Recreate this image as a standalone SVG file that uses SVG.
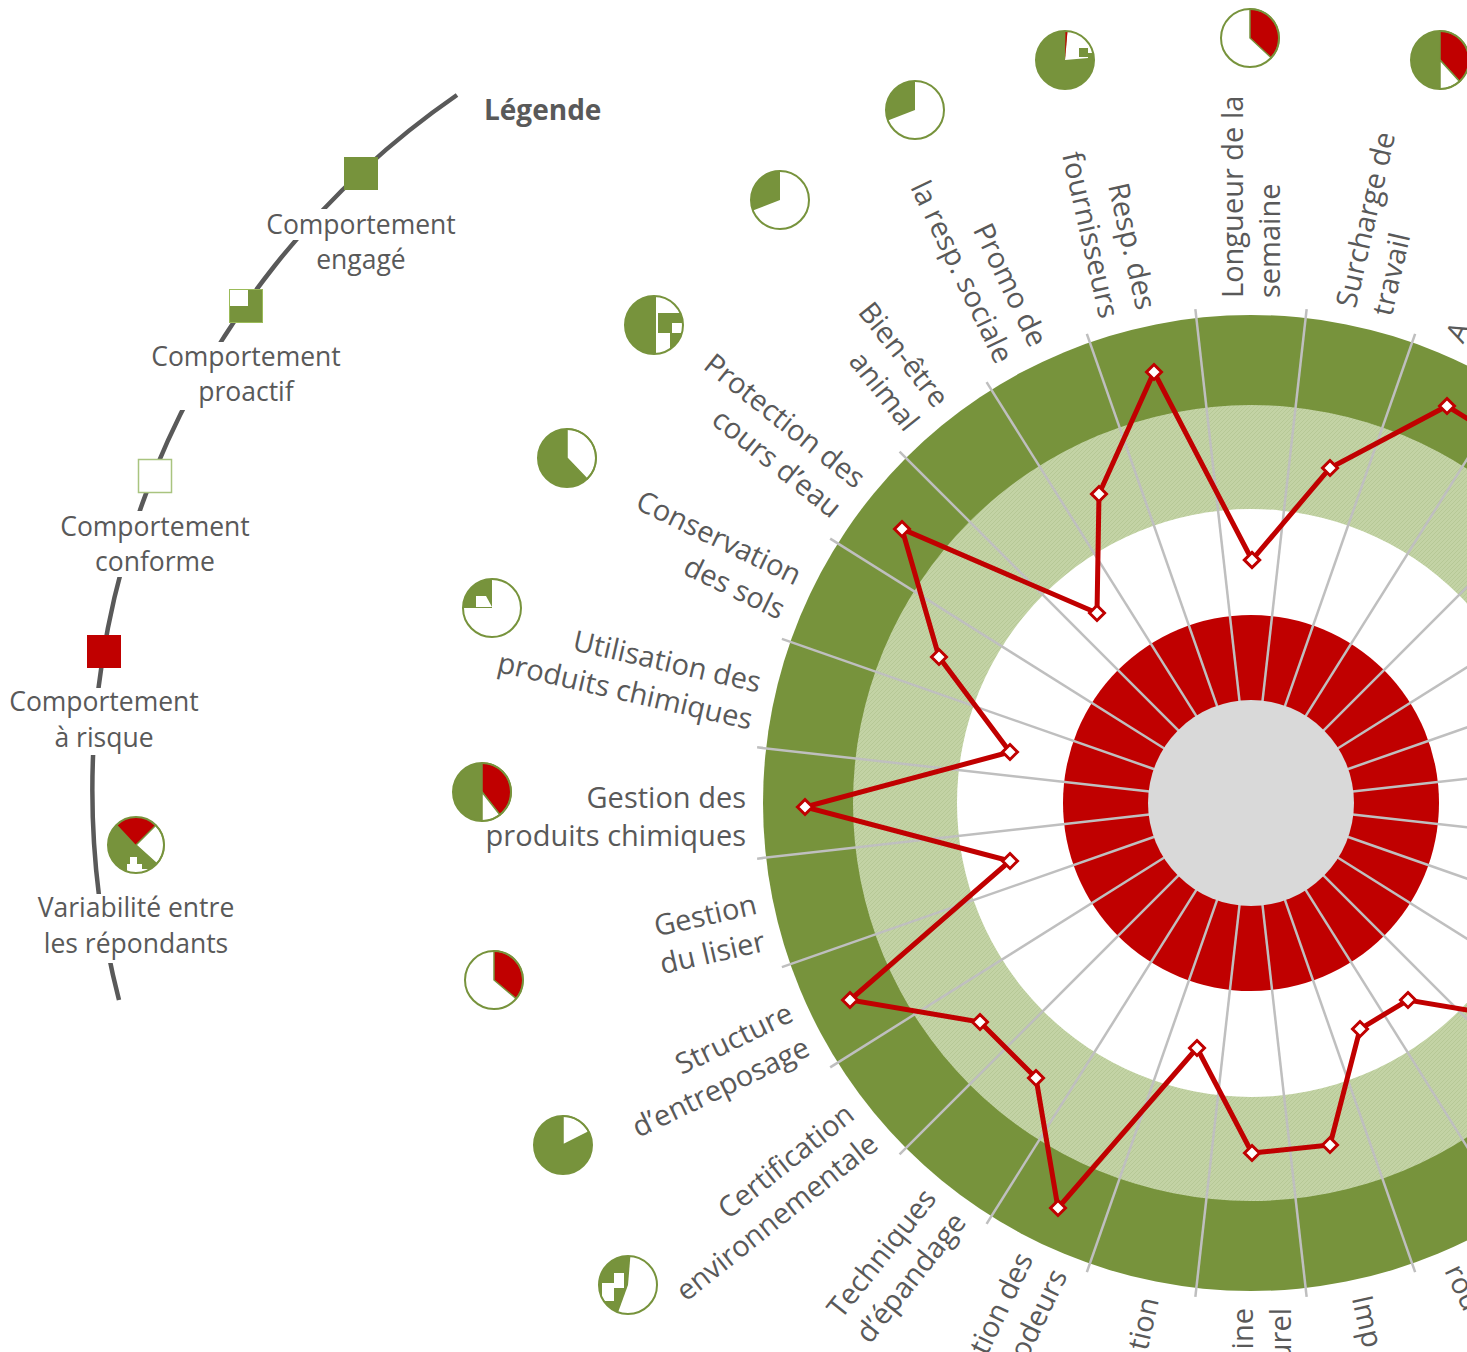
<svg xmlns="http://www.w3.org/2000/svg" xmlns:xlink="http://www.w3.org/1999/xlink" width="1467" height="1352" viewBox="0 0 1467 1352">
<style>
.t{font-family:"Open Sans","Liberation Sans",sans-serif;font-size:29px;fill:#595959}
.lg{font-family:"Open Sans","Liberation Sans",sans-serif;font-size:26.5px;fill:#595959;text-anchor:middle}
.e{text-anchor:end}
.s{text-anchor:start}
.sp{stroke:#BFBFBF;stroke-width:2.5}
.po{fill:none;stroke:#77933C;stroke-width:2}
.gr{fill:#77933C}
.rd{fill:#C00000}
.wh{fill:#FFFFFF}
.wb{fill:#FFFFFF;stroke:#77933C;stroke-width:1.5}
.rb{fill:#C00000;stroke:#77933C;stroke-width:1.5}
</style>
<defs>
<pattern id="lgp" width="4" height="4" patternUnits="userSpaceOnUse">
<rect width="4" height="4" fill="#C3D3A5"/>
<path d="M0,4 L4,0" stroke="#B6C896" stroke-width="1"/>
</pattern>
<marker id="dia" viewBox="-10 -10 20 20" markerWidth="20" markerHeight="20" markerUnits="userSpaceOnUse" refX="0" refY="0" orient="0">
<path d="M0,-7.5 L7.5,0 L0,7.5 L-7.5,0 Z" fill="#FFFFFF" stroke="#C00000" stroke-width="3"/>
</marker>
<clipPath id="pc"><circle r="29"/></clipPath>
<line id="spoke" x1="0" y1="-100" x2="0" y2="-497" class="sp"/>
</defs>

<g id="rings">
<circle cx="1251" cy="803" r="488" fill="#77933C"/>
<circle cx="1251" cy="803" r="398" fill="url(#lgp)"/>
<circle cx="1251" cy="803" r="294" fill="#FFFFFF"/>
<circle cx="1251" cy="803" r="188" fill="#C00000"/>
</g>

<g id="spokes" transform="translate(1251,803)">
<use xlink:href="#spoke" transform="rotate(6.4286)"/>
<use xlink:href="#spoke" transform="rotate(19.2857)"/>
<use xlink:href="#spoke" transform="rotate(32.1429)"/>
<use xlink:href="#spoke" transform="rotate(45)"/>
<use xlink:href="#spoke" transform="rotate(57.8571)"/>
<use xlink:href="#spoke" transform="rotate(70.7143)"/>
<use xlink:href="#spoke" transform="rotate(83.5714)"/>
<use xlink:href="#spoke" transform="rotate(96.4286)"/>
<use xlink:href="#spoke" transform="rotate(109.2857)"/>
<use xlink:href="#spoke" transform="rotate(122.1429)"/>
<use xlink:href="#spoke" transform="rotate(135)"/>
<use xlink:href="#spoke" transform="rotate(147.8571)"/>
<use xlink:href="#spoke" transform="rotate(160.7143)"/>
<use xlink:href="#spoke" transform="rotate(173.5714)"/>
<use xlink:href="#spoke" transform="rotate(186.4286)"/>
<use xlink:href="#spoke" transform="rotate(199.2857)"/>
<use xlink:href="#spoke" transform="rotate(212.1429)"/>
<use xlink:href="#spoke" transform="rotate(225)"/>
<use xlink:href="#spoke" transform="rotate(237.8571)"/>
<use xlink:href="#spoke" transform="rotate(250.7143)"/>
<use xlink:href="#spoke" transform="rotate(263.5714)"/>
<use xlink:href="#spoke" transform="rotate(276.4286)"/>
<use xlink:href="#spoke" transform="rotate(289.2857)"/>
<use xlink:href="#spoke" transform="rotate(302.1429)"/>
<use xlink:href="#spoke" transform="rotate(315)"/>
<use xlink:href="#spoke" transform="rotate(327.8571)"/>
<use xlink:href="#spoke" transform="rotate(340.7143)"/>
<use xlink:href="#spoke" transform="rotate(353.5714)"/>
</g>

<g id="center">
<circle cx="1251" cy="803" r="103" fill="#D9D9D9"/>
</g>

<g id="connectors">
<polygon points="1252,560 1330,468 1447,406 1528,456 1599,526 1562,654 1587,727 1696,804 1587,881 1652,997 1521,1019 1408,1000 1360,1029 1330,1145 1252,1153 1197,1048 1058,1208 1036,1078 980,1022 850,1000 1010,861 805,807 1010,752 939,657 902,529 1097,613 1099,494 1154,372" fill="none" stroke="#C00000" stroke-width="5" stroke-linejoin="miter" marker-start="url(#dia)" marker-mid="url(#dia)" marker-end="url(#dia)"/>
</g>

<!-- category labels -->
<g id="cat-longueur">
<text class="t s" transform="translate(1251,298) rotate(-90)"><tspan x="0" y="-8">Longueur de la</tspan><tspan x="0" y="29">semaine</tspan></text>
<g transform="translate(1250,38)"><circle r="29" class="wh"/><path d="M0,0 L0,-29 A29,29 0 0 1 21.2,19.8 Z" class="rb"/><circle r="29" class="po"/></g>
</g>
<g id="cat-surcharge">
<text class="t s" transform="translate(1363.4,310.7) rotate(-77.143)"><tspan x="0" y="-8">Surcharge de</tspan><tspan x="0" y="29">travail</tspan></text>
<g transform="translate(1440,60)"><circle r="29" class="gr"/><path d="M0,0 L0,-29 A29,29 0 0 1 19.6,21.4 Z" class="rb"/><path d="M0,0 L19.6,21.4 A29,29 0 0 1 0,29 Z" class="wb"/><circle r="29" class="po"/></g>
</g>
<g id="cat-a">
<text class="t s" transform="translate(1470.1,348) rotate(-64.286)"><tspan x="0" y="-8">A</tspan></text>
</g>
<g id="cat-resp-fourn">
<text class="t e" transform="translate(1138.6,310.7) rotate(77.143)"><tspan x="0" y="2">Resp. des</tspan><tspan x="0" y="40">fournisseurs</tspan></text>
<g transform="translate(1065,60)"><circle r="29" class="gr"/><path d="M0,0 L2.5,-28.9 A29,29 0 0 1 28.9,-2.5 Z" class="wh"/><path d="M0,0 L0.5,-29 A29,29 0 0 1 2.5,-28.9 Z" class="rd"/><g clip-path="url(#pc)"><rect x="14" y="-12" width="9" height="9" class="gr"/><rect x="23" y="-7" width="7" height="5" class="gr"/></g><circle r="29" class="po"/></g>
</g>
<g id="cat-promo">
<text class="t e" transform="translate(1031.9,348) rotate(64.286)"><tspan x="0" y="2">Promo de</tspan><tspan x="0" y="40">la resp. sociale</tspan></text>
<g transform="translate(915,110)"><circle r="29" class="wh"/><path d="M0,0 L-27.1,10.4 A29,29 0 0 1 0,-29 Z" class="gr"/><circle r="29" class="po"/></g>
</g>
<g id="cat-bien-etre">
<text class="t e" transform="translate(936.1,408.2) rotate(51.429)"><tspan x="0" y="2">Bien-être</tspan><tspan x="0" y="40">animal</tspan></text>
<g transform="translate(780,200)"><circle r="29" class="wh"/><path d="M0,0 L-27.1,10.4 A29,29 0 0 1 0,-29 Z" class="gr"/><circle r="29" class="po"/></g>
</g>
<g id="cat-protection">
<text class="t e" transform="translate(856.2,488.1) rotate(38.571)"><tspan x="0" y="2">Protection des</tspan><tspan x="0" y="40">cours d’eau</tspan></text>
<g transform="translate(654,325)"><circle r="29" class="gr"/><g clip-path="url(#pc)"><rect x="2" y="-30" width="28" height="18" class="wh"/><rect x="2" y="-12" width="2" height="42" class="wh"/><rect x="18" y="-2" width="12" height="10" class="wh"/><rect x="4" y="8" width="12" height="22" class="wh"/></g><circle r="29" class="po"/></g>
</g>
<g id="cat-conservation">
<text class="t e" transform="translate(796,583.9) rotate(25.714)"><tspan x="0" y="2">Conservation</tspan><tspan x="0" y="40">des sols</tspan></text>
<g transform="translate(567,458)"><circle r="29" class="gr"/><path d="M0,0 L0,-29 A29,29 0 0 1 20.1,20.9 Z" class="wb"/><circle r="29" class="po"/></g>
</g>
<g id="cat-utilisation">
<text class="t e" transform="translate(758.7,690.6) rotate(12.857)"><tspan x="0" y="2">Utilisation des</tspan><tspan x="0" y="40">produits chimiques</tspan></text>
<g transform="translate(492,608)"><circle r="29" class="wh"/><path d="M0,0 L-29,0 A29,29 0 0 1 0,-29 Z" class="gr"/><path d="M-16,-12 L-6,-12 L0,-1 L-16,-1 Z" class="wh"/><circle r="29" class="po"/></g>
</g>
<g id="cat-gestion-chim">
<text class="t e" transform="translate(746,803)"><tspan x="0" y="5">Gestion des</tspan><tspan x="0" y="43">produits chimiques</tspan></text>
<g transform="translate(482,792)"><circle r="29" class="gr"/><path d="M0,0 L0,-29 A29,29 0 0 1 17.9,22.9 Z" class="rb"/><path d="M0,0 L17.9,22.9 A29,29 0 0 1 0,29 Z" class="wb"/><circle r="29" class="po"/></g>
</g>
<g id="cat-lisier">
<text class="t e" transform="translate(758.7,915.4) rotate(-12.857)"><tspan x="0" y="-2">Gestion</tspan><tspan x="0" y="36">du lisier</tspan></text>
<g transform="translate(494,980)"><circle r="29" class="wh"/><path d="M0,0 L0,-29 A29,29 0 0 1 22.2,18.6 Z" class="rb"/><circle r="29" class="po"/></g>
</g>
<g id="cat-structure">
<text class="t e" transform="translate(796,1022.1) rotate(-25.714)"><tspan x="0" y="-2">Structure</tspan><tspan x="0" y="36">d’entreposage</tspan></text>
<g transform="translate(563,1145)"><circle r="29" class="gr"/><path d="M0,0 L0,-29 A29,29 0 0 1 25.8,-13.2 Z" class="wb"/><circle r="29" class="po"/></g>
</g>
<g id="cat-certification">
<text class="t e" transform="translate(856.2,1117.9) rotate(-38.571)"><tspan x="0" y="0">Certification</tspan><tspan x="0" y="38">environnementale</tspan></text>
<g transform="translate(628,1285)"><circle r="29" class="wh"/><path d="M0,0 L-9.9,27.3 A29,29 0 0 1 2.4,-28.9 Z" class="gr"/><g clip-path="url(#pc)"><rect x="-26" y="-2" width="12" height="18" class="wh"/><rect x="-14" y="-12" width="10" height="15" class="wh"/></g><circle r="29" class="po"/></g>
</g>
<g id="cat-epandage">
<text class="t e" transform="translate(936.1,1197.8) rotate(-51.429)"><tspan x="0" y="2">Techniques</tspan><tspan x="0" y="40">d’épandage</tspan></text>
</g>
<g id="cat-odeurs">
<text class="t e" transform="translate(1031.9,1258) rotate(-64.286)"><tspan x="0" y="2">tion des</tspan><tspan x="0" y="40">odeurs</tspan></text>
</g>
<g id="cat-k15">
<text class="t e" transform="translate(1138.6,1295.3) rotate(-77.143)"><tspan x="0" y="21">tion</tspan></text>
</g>
<g id="cat-k14">
<text class="t e" transform="translate(1251,1308) rotate(-90)"><tspan x="0" y="2">ine</tspan><tspan x="0" y="40">urel</tspan></text>
</g>
<g id="cat-k13">
<text class="t s" transform="translate(1363.4,1295.3) rotate(77.143)"><tspan x="0" y="12">Imp</tspan></text>
</g>
<g id="cat-k12">
<text class="t s" transform="translate(1470.1,1258) rotate(64.286)"><tspan x="0" y="29">rou</tspan></text>
</g>

<!-- legend -->
<g id="legend">
<path d="M457,95 A844,844 0 0 0 119,1000" fill="none" stroke="#595959" stroke-width="4.5"/>
<text x="484" y="120" style="font-family:'Open Sans','Liberation Sans',sans-serif;font-size:28px;font-weight:bold;fill:#595959">Légende</text>
</g>
<g id="legend-engage">
<rect x="262" y="209" width="200" height="31" fill="#FFFFFF"/>
<rect x="344" y="157" width="34" height="33" fill="#77933C"/>
<text class="lg" x="361" y="234"><tspan x="361">Comportement</tspan><tspan x="361" dy="35">engagé</tspan></text>
</g>
<g id="legend-proactif">
<rect x="150" y="342" width="196" height="68" fill="#FFFFFF"/>
<rect x="229.5" y="289.5" width="33" height="33" fill="#77933C" stroke="#9BBB59" stroke-width="1"/>
<rect x="230" y="290" width="18" height="16" fill="#FFFFFF"/>
<text class="lg" x="246" y="366"><tspan x="246">Comportement</tspan><tspan x="246" dy="35">proactif</tspan></text>
</g>
<g id="legend-conforme">
<rect x="58" y="511" width="194" height="66" fill="#FFFFFF"/>
<rect x="138.5" y="459.5" width="33" height="33" fill="#FFFFFF" stroke="#A9C47F" stroke-width="1.5"/>
<text class="lg" x="155" y="536"><tspan x="155">Comportement</tspan><tspan x="155" dy="35">conforme</tspan></text>
</g>
<g id="legend-risque">
<rect x="4" y="688" width="198" height="67" fill="#FFFFFF"/>
<rect x="87" y="635" width="34" height="33" fill="#C00000"/>
<text class="lg" x="104" y="711"><tspan x="104">Comportement</tspan><tspan x="104" dy="36">à risque</tspan></text>
</g>
<g id="legend-variabilite">
<rect x="32" y="894" width="208" height="69" fill="#FFFFFF"/>
<g transform="translate(136,845)"><circle r="28" class="gr"/><path d="M0,0 L-19.1,-20.5 A28,28 0 0 1 19.8,-19.8 Z" class="rd"/><path d="M0,0 L19.8,-19.8 A28,28 0 0 1 20.8,18.7 Z" class="wb"/><g clip-path="url(#pc)"><path d="M-9,30 L-9,19 L-6,19 L-6,12 L1,12 L1,19 L6,19 L6,24 L14,24 L14,30 Z" class="wh"/></g><circle r="28" class="po"/></g>
<text class="lg" x="136" y="917"><tspan x="136">Variabilité entre</tspan><tspan x="136" dy="36">les répondants</tspan></text>
</g>
</svg>
